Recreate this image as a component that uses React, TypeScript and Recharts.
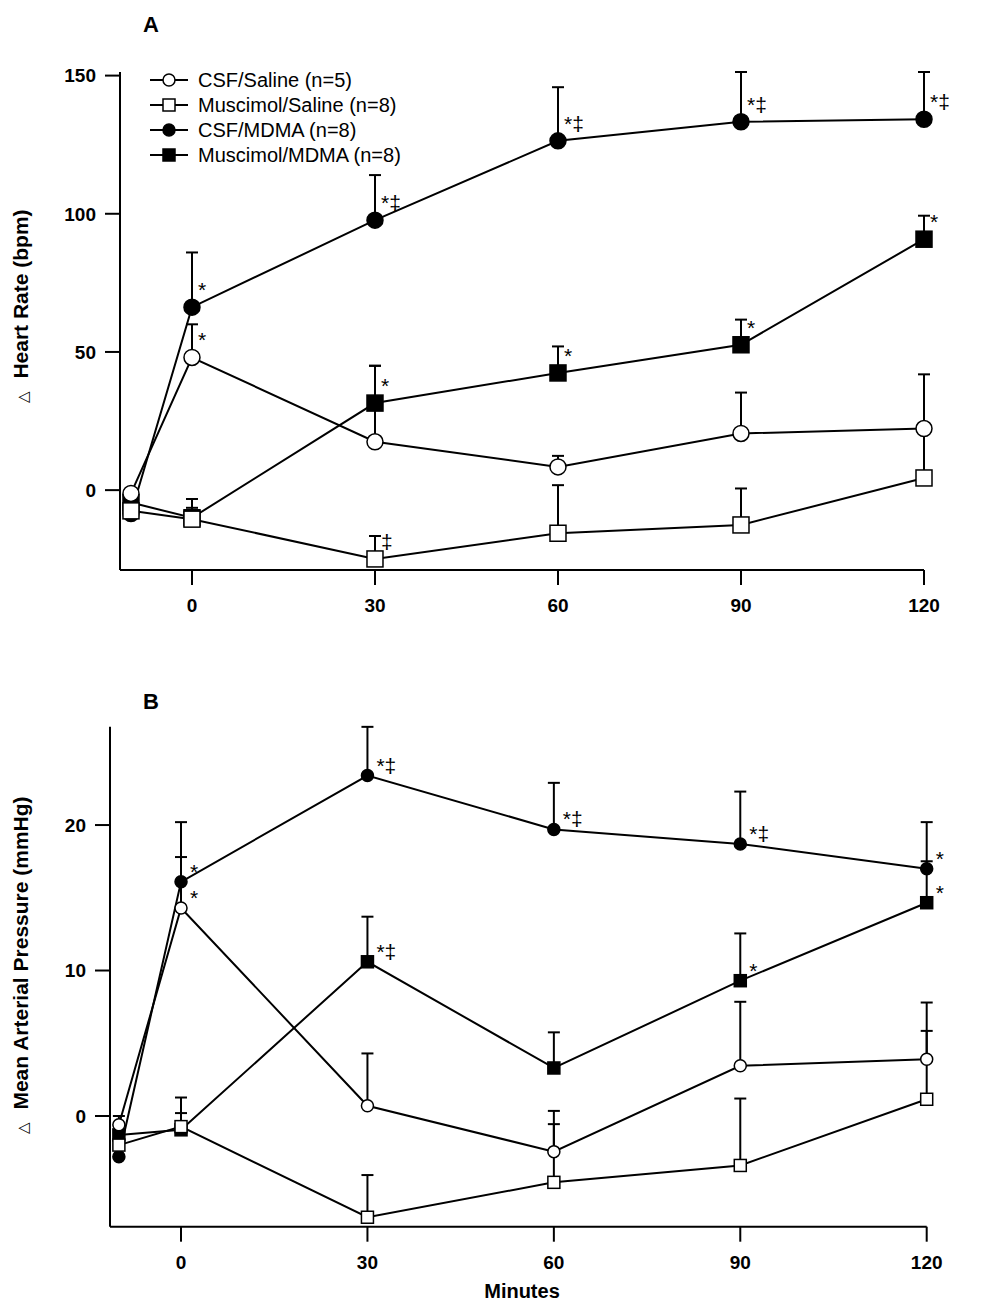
import React from "react";
import { LineChart, Line, XAxis, YAxis, ErrorBar, LabelList, Legend } from "recharts";

const FONT = "Arial, 'Liberation Sans', sans-serif";

const MINUTES = [-10, 0, 30, 60, 90, 120];
const MINUTE_TICKS = [0, 30, 60, 90, 120];

// Panel A – change in heart rate (bpm); SEM is drawn upward only
const HR_CSF_SALINE = [-1.2, 48, 17.5, 8.4, 20.5, 22.3];
const HR_CSF_SALINE_SEM = [null, 12, 27.5, 4, 14.8, 19.6];
const HR_MUS_SALINE = [-7.5, -10.5, -24.9, -15.6, -12.6, 4.4];
const HR_MUS_SALINE_SEM = [null, 7.3, 8.3, 17.4, 13.2, 17.8];
const HR_CSF_MDMA = [-8.5, 66.2, 97.7, 126.4, 133.3, 134.2];
const HR_CSF_MDMA_SEM = [null, 19.8, 16.3, 19.4, 18.0, 17.1];
const HR_MUS_MDMA = [-4.5, -10, 31.5, 42.4, 52.6, 90.8];
const HR_MUS_MDMA_SEM = [null, 3.6, 13.5, 9.6, 9.1, 8.5];

const HR_CSF_SALINE_NOTE = ["", "*", "", "", "", ""];
const HR_MUS_SALINE_NOTE = ["", "", "‡", "", "", ""];
const HR_CSF_MDMA_NOTE = ["", "*", "*‡", "*‡", "*‡", "*‡"];
const HR_MUS_MDMA_NOTE = ["", "", "*", "*", "*", "*"];

const HR_TICKS = [0, 50, 100, 150];

// Panel B – change in mean arterial pressure (mmHg)
const MAP_CSF_SALINE = [-0.6, 14.3, 0.7, -2.45, 3.45, 3.9];
const MAP_CSF_SALINE_SEM = [0.6, 3.5, 3.6, 2.8, 4.4, 3.9];
const MAP_MUS_SALINE = [-2.0, -0.73, -6.96, -4.56, -3.4, 1.15];
const MAP_MUS_SALINE_SEM = [null, 2.0, 2.9, 4.0, 4.6, 4.7];
const MAP_CSF_MDMA = [-2.8, 16.1, 23.4, 19.7, 18.7, 17.0];
const MAP_CSF_MDMA_SEM = [null, 4.1, 3.35, 3.2, 3.6, 3.2];
const MAP_MUS_MDMA = [-1.3, -0.95, 10.6, 3.3, 9.3, 14.66];
const MAP_MUS_MDMA_SEM = [null, 1.15, 3.1, 2.45, 3.25, 2.85];

const MAP_CSF_SALINE_NOTE = ["", "*", "", "", "", ""];
const MAP_MUS_SALINE_NOTE = ["", "", "", "", "", ""];
const MAP_CSF_MDMA_NOTE = ["", "*", "*‡", "*‡", "*‡", "*"];
const MAP_MUS_MDMA_NOTE = ["", "", "*‡", "", "*", "*"];

const MAP_TICKS = [0, 10, 20];

type Kind = "openCircle" | "openSquare" | "filledCircle" | "filledSquare";

const SERIES: { key: string; name: string; kind: Kind }[] = [
  { key: "csfSaline", name: "CSF/Saline (n=5)", kind: "openCircle" },
  { key: "musSaline", name: "Muscimol/Saline (n=8)", kind: "openSquare" },
  { key: "csfMdma", name: "CSF/MDMA (n=8)", kind: "filledCircle" },
  { key: "musMdma", name: "Muscimol/MDMA (n=8)", kind: "filledSquare" },
];
// filled series go underneath the open ones
const DRAW_ORDER = ["csfMdma", "musMdma", "musSaline", "csfSaline"];

type Triple = [(number | null)[], (number | null)[], string[]];

function makeRows(src: Record<string, Triple>) {
  return MINUTES.map((minute, i) => {
    const row: Record<string, unknown> = { minute };
    for (const [key, [vals, sem, notes]] of Object.entries(src)) {
      row[key] = vals[i];
      row[`${key}Sem`] = sem[i] == null ? null : [0, sem[i]];
      row[`${key}Note`] = notes[i];
    }
    return row;
  });
}

const hrRows = makeRows({
  csfSaline: [HR_CSF_SALINE, HR_CSF_SALINE_SEM, HR_CSF_SALINE_NOTE],
  musSaline: [HR_MUS_SALINE, HR_MUS_SALINE_SEM, HR_MUS_SALINE_NOTE],
  csfMdma: [HR_CSF_MDMA, HR_CSF_MDMA_SEM, HR_CSF_MDMA_NOTE],
  musMdma: [HR_MUS_MDMA, HR_MUS_MDMA_SEM, HR_MUS_MDMA_NOTE],
});

const mapRows = makeRows({
  csfSaline: [MAP_CSF_SALINE, MAP_CSF_SALINE_SEM, MAP_CSF_SALINE_NOTE],
  musSaline: [MAP_MUS_SALINE, MAP_MUS_SALINE_SEM, MAP_MUS_SALINE_NOTE],
  csfMdma: [MAP_CSF_MDMA, MAP_CSF_MDMA_SEM, MAP_CSF_MDMA_NOTE],
  musMdma: [MAP_MUS_MDMA, MAP_MUS_MDMA_SEM, MAP_MUS_MDMA_NOTE],
});

function Marker({ cx, cy, kind, size }: { cx?: number; cy?: number; kind: Kind; size: number }) {
  if (cx == null || cy == null) return null;
  const fill = kind.startsWith("filled") ? "#000" : "#fff";
  if (kind.endsWith("Circle")) {
    return <circle cx={cx} cy={cy} r={size / 2} fill={fill} stroke="#000" strokeWidth={1.5} />;
  }
  return (
    <rect x={cx - size / 2} y={cy - size / 2} width={size} height={size} fill={fill} stroke="#000" strokeWidth={1.5} />
  );
}

function renderLegend() {
  return (
    <svg width={280} height={100}>
      {SERIES.map((s, i) => {
        const y = 12 + i * 25;
        return (
          <g key={s.key}>
            <line x1={2} x2={40} y1={y} y2={y} stroke="#000" strokeWidth={2} />
            <Marker cx={21} cy={y} kind={s.kind} size={12} />
            <text x={50} y={y} dy="0.36em" fontSize={20} fontFamily={FONT} fill="#000">
              {s.name}
            </text>
          </g>
        );
      })}
    </svg>
  );
}

const axisLine = { stroke: "#000", strokeWidth: 2 };
const tickStyle = { fill: "#000", fontSize: 19, fontWeight: "bold", fontFamily: FONT };

function Panel({
  rows,
  height,
  margin,
  yWidth,
  xHeight,
  xDomain,
  yDomain,
  yTicks,
  markerSize,
  capWidth,
  noteDx,
  noteDy,
  yTitle,
  yTitleY,
  showLegend,
  xTitle,
}: {
  rows: Record<string, unknown>[];
  height: number;
  margin: { top: number; right: number; left: number; bottom: number };
  yWidth: number;
  xHeight: number;
  xDomain: [number, number];
  yDomain: [number, number];
  yTicks: number[];
  markerSize: number;
  capWidth: number;
  noteDx: number;
  noteDy: number;
  yTitle: string;
  yTitleY: number;
  showLegend?: boolean;
  xTitle?: string;
}) {
  return (
    <LineChart width={988} height={height} data={rows} margin={margin}>
      <XAxis
        dataKey="minute"
        type="number"
        domain={xDomain}
        ticks={MINUTE_TICKS}
        height={xHeight}
        axisLine={axisLine}
        tickLine={axisLine}
        tickSize={15}
        tickMargin={14}
        tick={tickStyle}
        label={
          xTitle
            ? () => (
                <text x={522} y={height - 19} textAnchor="middle" dy="0.36em" fontSize={20} fontWeight="bold" fontFamily={FONT}>
                  {xTitle}
                </text>
              )
            : undefined
        }
      />
      <YAxis
        type="number"
        domain={yDomain}
        ticks={yTicks}
        width={yWidth}
        axisLine={axisLine}
        tickLine={axisLine}
        tickSize={15}
        tickMargin={9}
        tick={tickStyle}
        label={() => (
          <text
            x={22}
            y={yTitleY}
            transform={`rotate(-90, 22, ${yTitleY})`}
            textAnchor="middle"
            dy="0.36em"
            fontFamily={FONT}
            fill="#000"
          >
            <tspan fontSize={15}>△</tspan>
            <tspan dx={12} fontSize={21} fontWeight="bold">
              {yTitle}
            </tspan>
          </text>
        )}
      />
      {showLegend && (
        <Legend
          layout="vertical"
          align="center"
          verticalAlign="middle"
          content={renderLegend}
          wrapperStyle={{ position: "absolute", left: 148, top: 68, width: 280, height: 100 }}
        />
      )}
      {DRAW_ORDER.map((key) => {
        const s = SERIES.find((x) => x.key === key)!;
        return (
          <Line
            key={key}
            dataKey={key}
            name={s.name}
            stroke="#000"
            strokeWidth={2}
            isAnimationActive={false}
            activeDot={false}
            dot={(p: { cx?: number; cy?: number; index?: number }) => (
              <Marker key={`${key}-${p.index}`} cx={p.cx} cy={p.cy} kind={s.kind} size={markerSize} />
            )}
          >
            <ErrorBar dataKey={`${key}Sem`} direction="y" width={capWidth} stroke="#000" strokeWidth={2} />
            <LabelList
              dataKey={`${key}Note`}
              content={(p: { x?: number; y?: number; value?: string }) =>
                p.value ? (
                  <text x={Number(p.x) + noteDx} y={Number(p.y) + noteDy} fontSize={21} fontFamily={FONT} fill="#000">
                    {p.value}
                  </text>
                ) : null
              }
            />
          </Line>
        );
      })}
    </LineChart>
  );
}

const titleStyle: React.CSSProperties = {
  position: "absolute",
  left: 143,
  fontFamily: FONT,
  fontWeight: "bold",
  fontSize: 22,
  lineHeight: "22px",
};

export default function App() {
  return (
    <div style={{ position: "absolute", left: 0, top: 0, width: 988, height: 1310, background: "#fff" }}>
      <div style={{ ...titleStyle, top: 14 }}>A</div>
      <div style={{ ...titleStyle, top: 691 }}>B</div>
      <div style={{ position: "absolute", left: 0, top: 0 }}>
        <Panel
          rows={hrRows}
          height={650}
          margin={{ top: 72, right: 64, left: 0, bottom: 0 }}
          yWidth={120}
          xHeight={80}
          xDomain={[-11.8, 120]}
          yDomain={[-28.9, 151.1]}
          yTicks={HR_TICKS}
          markerSize={16}
          capWidth={6}
          noteDx={6}
          noteDy={-10}
          yTitle="Heart Rate (bpm)"
          yTitleY={306}
          showLegend
        />
      </div>
      <div style={{ position: "absolute", left: 0, top: 650 }}>
        <Panel
          rows={mapRows}
          height={660}
          margin={{ top: 76.7, right: 61.3, left: 0, bottom: 0 }}
          yWidth={110}
          xHeight={83.3}
          xDomain={[-11.43, 120]}
          yDomain={[-7.61, 26.76]}
          yTicks={MAP_TICKS}
          markerSize={12}
          capWidth={6}
          noteDx={9}
          noteDy={-3}
          yTitle="Mean Arterial Pressure (mmHg)"
          yTitleY={315}
          xTitle="Minutes"
        />
      </div>
    </div>
  );
}
